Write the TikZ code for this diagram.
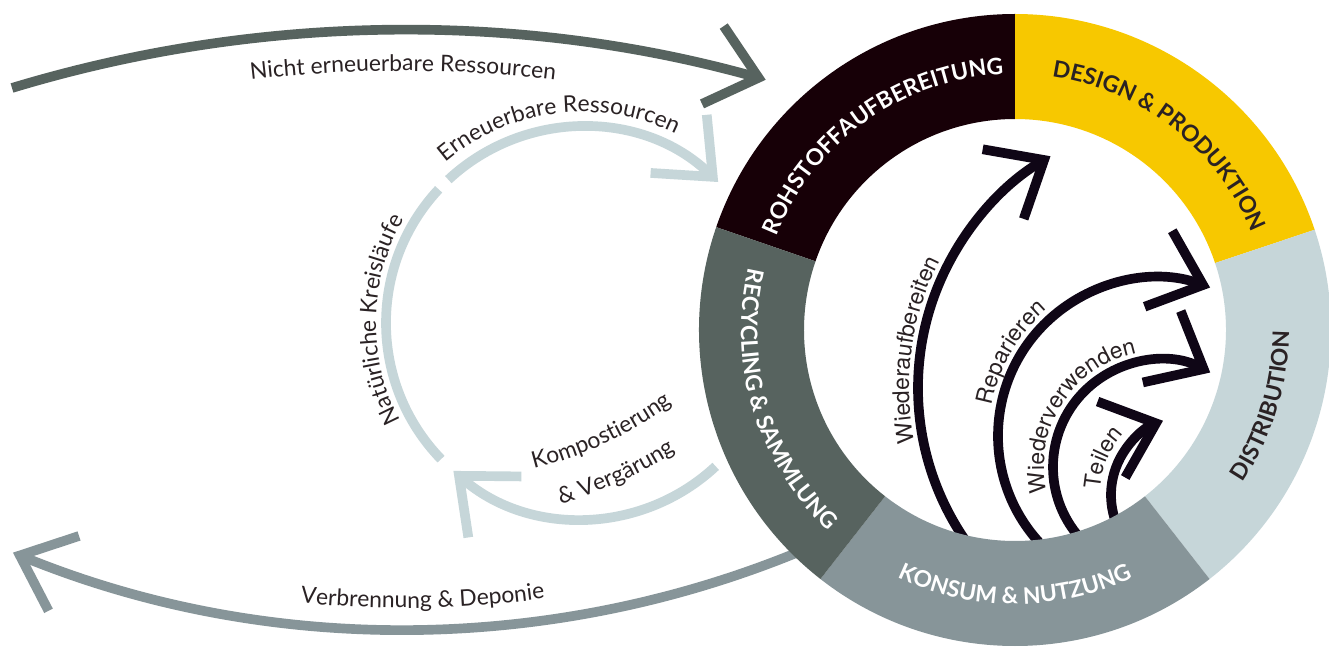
\documentclass[tikz,border=0pt]{standalone}
\usepackage{fontspec}
\setmainfont{Lato}
\newfontfamily\herosfont{TeX Gyre Heros}
\usetikzlibrary{arrows.meta, decorations.text, calc}

\definecolor{rawdark}{HTML}{170007}
\definecolor{designyellow}{HTML}{F7C800}
\definecolor{distblue}{HTML}{C6D6D9}
\definecolor{usegrey}{HTML}{879599}
\definecolor{recyclegreen}{HTML}{57635F}
\definecolor{inkdark}{HTML}{0F0616}
\definecolor{labelink}{HTML}{2A2224}

\newcommand\ringtext{\fontsize{13}{15}\selectfont\bfseries}
\newcommand\flowtext{\fontsize{13}{15}\selectfont}
\newcommand\reusetext{\herosfont\fontsize{13}{15}\selectfont}

\tikzset{
    barb/.style={-{Straight Barb[length=27pt,width=46pt,sharp]}},
    flow/.style={line width=5.5pt},
    curved/.style 2 args={decorate, decoration={text along path, text align=center, text color=#1, text={#2}}},
}

\begin{document}
\begin{tikzpicture}[x=0.02cm, y=0.02cm]
    \path[fill=white, use as bounding box] (0,0) rectangle (1329,650);

    % centres of the circles and bows
    \coordinate (ring) at (1015,320);
    \coordinate (nature) at (582,327);
    \coordinate (topbow) at (403,-729);
    \coordinate (lowbow) at (405,1058);
    \coordinate (kompbow) at (435,574);
    \coordinate (wabC) at (1187,262);
    \coordinate (repC) at (1156,214);
    \coordinate (wvwC) at (1160,183);
    \coordinate (teiC) at (1190,155);

    % outer flows
    \coordinate (nerStart) at ($(topbow)+(106.85:1349)$);
    \coordinate (vbdStart) at ($(lowbow)+(-67.5:1037.6)$);
    \draw[flow, barb, recyclegreen] (nerStart) arc[start angle=106.85, end angle=74.4, radius=1349];
    \draw[flow, barb, usegrey] (vbdStart) arc[start angle=-67.5, end angle=-112.2, radius=1037.6];
    \path[curved={labelink}{|\flowtext|Nicht erneuerbare Ressourcen}] ($(topbow)+(100:1308)$) arc[start angle=100, end angle=80, radius=1308];
    \path[curved={labelink}{|\flowtext|Verbrennung {\&} Deponie}] ($(lowbow)+(-100:1016)$) arc[start angle=-100, end angle=-78, radius=1016];

    % natural cycle
    \coordinate (nkFoot) at ($(nature)+(224:196)$);
    \coordinate (ernStart) at ($(nature)+(133:196)$);
    \coordinate (kompStart) at ($(nature)+(-47:196)$);
    \draw[flow, distblue] (nkFoot) arc[start angle=224, end angle=137, radius=196];
    \draw[flow, barb, distblue] (ernStart) arc[start angle=133, end angle=46, radius=196];
    \draw[flow, barb, distblue] (kompStart) arc[start angle=-47, end angle=-131, radius=196];
    \path[curved={labelink}{|\flowtext|Erneuerbare Ressourcen}] ($(nature)+(177:211)$) arc[start angle=177, end angle=17, radius=211];
    \path[curved={labelink}{|\flowtext|Natürliche Kreisläufe}] ($(nature)+(259:206)$) arc[start angle=259, end angle=99, radius=206];
    \path[curved={labelink}{|\flowtext|Kompostierung}] ($(kompbow)+(-95:405)$) arc[start angle=-95, end angle=-35, radius=405];
    \path[curved={labelink}{|\flowtext|{\&} Vergärung}] ($(kompbow)+(-96:446)$) arc[start angle=-96, end angle=-35, radius=446];

    % inner loops
    \coordinate (wabFoot) at ($(wabC)+(216:269)$);
    \coordinate (repFoot) at ($(repC)+(224:158)$);
    \coordinate (wvwFoot) at ($(wvwC)+(222:107)$);
    \coordinate (teiFoot) at ($(teiC)+(212:79)$);
    \draw[flow, barb, inkdark] (wabFoot) arc[start angle=216, end angle=120.5, radius=269];
    \draw[flow, barb, inkdark] (repFoot) arc[start angle=224, end angle=70, radius=158];
    \draw[flow, barb, inkdark] (wvwFoot) arc[start angle=222, end angle=62, radius=107];
    \draw[flow, barb, inkdark] (teiFoot) arc[start angle=212, end angle=110, radius=79];
    \path[curved={labelink}{|\reusetext|Wiederaufbereiten}] ($(wabC)+(252:278)$) arc[start angle=252, end angle=92, radius=278];
    \path[curved={labelink}{|\reusetext|Reparieren}] ($(repC)+(230:167)$) arc[start angle=230, end angle=70, radius=167];
    \path[curved={labelink}{|\reusetext|Wiederverwenden}] ($(wvwC)+(237:116)$) arc[start angle=237, end angle=57, radius=116];
    \path[curved={labelink}{|\reusetext|Teilen}] ($(teiC)+(237:90)$) arc[start angle=237, end angle=77, radius=90];

    % ring
    \newcommand\ringpart[3]{\fill[#1] ($(ring)+(#2:316)$) arc[start angle=#2, end angle=#3, radius=316] -- ($(ring)+(#3:211)$) arc[start angle=#3, end angle=#2, radius=211] -- cycle;}
    \ringpart{rawdark}{90}{161}
    \ringpart{designyellow}{18.5}{90}
    \ringpart{distblue}{-52}{18.5}
    \ringpart{usegrey}{-128}{-52}
    \ringpart{recyclegreen}{161}{232}

    \path[curved={white}{|\ringtext|ROHSTOFFAUFBEREITUNG}] ($(ring)+(205.5:256)$) arc[start angle=205.5, end angle=45.5, radius=256];
    \path[curved={labelink}{|\ringtext|DESIGN {\&} PRODUKTION}] ($(ring)+(132:256)$) arc[start angle=132, end angle=-28, radius=256];
    \path[curved={labelink}{|\ringtext|DISTRIBUTION}] ($(ring)+(-97:274)$) arc[start angle=-97, end angle=63, radius=274];
    \path[curved={white}{|\ringtext|KONSUM {\&} NUTZUNG}] ($(ring)+(-170:274)$) arc[start angle=-170, end angle=-10, radius=274];
    \path[curved={white}{|\ringtext|RECYCLING {\&} SAMMLUNG}] ($(ring)+(117:274)$) arc[start angle=117, end angle=277, radius=274];
\end{tikzpicture}
\end{document}
